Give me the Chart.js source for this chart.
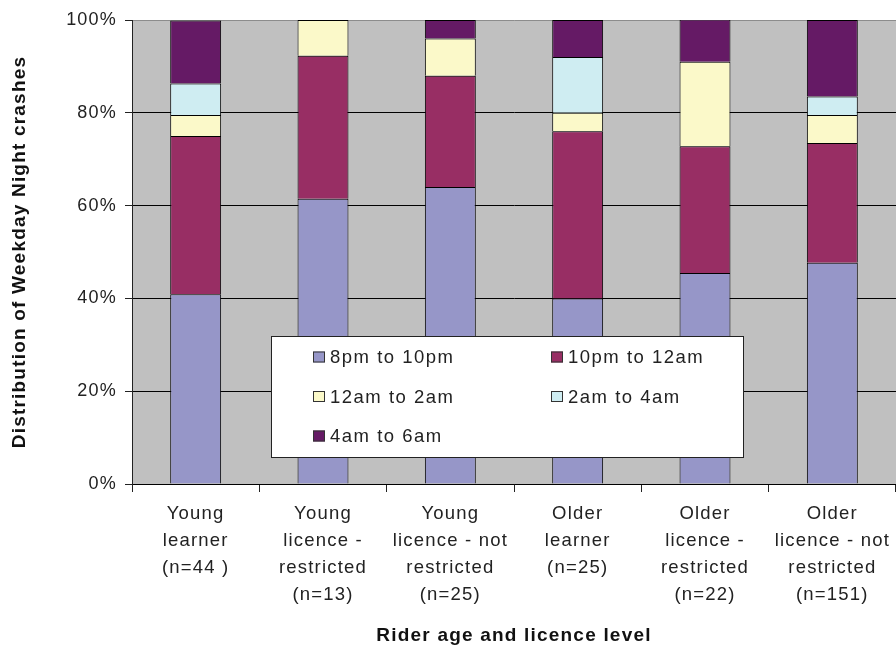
<!DOCTYPE html>
<html>
<head>
<meta charset="utf-8">
<title>Weekday night crashes by rider age and licence level</title>
<script src="https://cdn.jsdelivr.net/npm/chart.js@4.4.1/dist/chart.umd.min.js"></script>
<style>
  html, body { margin: 0; padding: 0; background: #fff; overflow: hidden; }
  canvas { display: block; }
</style>
</head>
<body>
<canvas id="crashChart" width="896" height="649"></canvas>
<script>
// Rider groups along the x axis (one array per label line)
const categories = [
  ['Young', 'learner', '(n=44 )'],
  ['Young', 'licence -', 'restricted', '(n=13)'],
  ['Young', 'licence - not', 'restricted', '(n=25)'],
  ['Older', 'learner', '(n=25)'],
  ['Older', 'licence -', 'restricted', '(n=22)'],
  ['Older', 'licence - not', 'restricted', '(n=151)']
];

// Share of weekday night crashes (%) in each time band
const pm8to10  = [40.9, 61.5, 64.0, 40.0, 45.5, 47.7];
const pm10to12 = [34.1, 30.8, 24.0, 36.0, 27.3, 25.8];
const am12to2  = [4.5, 7.7, 8.0, 4.0, 18.2, 6.0];
const am2to4   = [6.8, null, null, 12.0, null, 4.0];
const am4to6   = [13.6, null, 4.0, 8.0, 9.1, 16.5];

const seriesNames = ['8pm to 10pm', '10pm to 12am', '12am to 2am', '2am to 4am', '4am to 6am'];
const seriesColors = ['#9696c8', '#982e64', '#fbf9c9', '#cfedf2', '#651a65'];
const yTicks = [0, 20, 40, 60, 80, 100];

const FONT = '"Liberation Sans", Arial, sans-serif';
Chart.defaults.font.family = FONT;
Chart.defaults.color = '#222';

// grey plot area, plus the slightly wide letter spacing used by all chart text
const plotBackground = {
  id: 'plotBackground',
  beforeDraw(chart) {
    const { ctx, chartArea: a } = chart;
    ctx.letterSpacing = '1.2px';
    ctx.save();
    ctx.fillStyle = '#c0c0c0';
    ctx.fillRect(a.left, a.top, a.right - a.left, a.bottom - a.top);
    ctx.restore();
  }
};

// boxed two-column legend sitting over the bars
const boxLegend = {
  id: 'boxLegend',
  afterDraw(chart) {
    const ctx = chart.ctx;
    ctx.save();
    ctx.fillStyle = '#fff';
    ctx.fillRect(271, 336, 473, 122);
    ctx.strokeStyle = '#222';
    ctx.lineWidth = 1;
    ctx.strokeRect(271.5, 336.5, 472, 121);
    ctx.font = '18.5px ' + FONT;
    ctx.letterSpacing = '1.5px';
    ctx.textBaseline = 'middle';
    chart.data.datasets.forEach((ds, i) => {
      const x = i % 2 ? 551 : 313;
      const y = 357 + Math.floor(i / 2) * 39.5;
      ctx.fillStyle = ds.backgroundColor;
      ctx.fillRect(x, y - 5.5, 12, 11);
      ctx.strokeStyle = '#333';
      ctx.strokeRect(x + 0.5, y - 5, 11, 10);
      ctx.fillStyle = '#222';
      ctx.fillText(ds.label, x + 17, y + 1);
    });
    ctx.restore();
  }
};

const seriesData = [pm8to10, pm10to12, am12to2, am2to4, am4to6];

new Chart(document.getElementById('crashChart'), {
  type: 'bar',
  data: {
    labels: categories,
    datasets: seriesData.map((d, i) => ({
      label: seriesNames[i],
      data: d,
      backgroundColor: seriesColors[i],
      borderColor: '#000',
      borderWidth: 1,
      categoryPercentage: 1,
      barPercentage: 0.4
    }))
  },
  options: {
    responsive: false,
    animation: false,
    devicePixelRatio: 1,
    layout: { padding: { top: 20, right: -2, bottom: 0, left: 0 } },
    plugins: {
      legend: { display: false },
      tooltip: { enabled: false }
    },
    scales: {
      x: {
        stacked: true,
        afterFit: s => { s.height = 165; },
        grid: { drawOnChartArea: false, tickLength: 8, color: '#222' },
        border: { color: '#000' },
        ticks: {
          font: { size: 18.5, lineHeight: 1.443 },
          padding: 9,
          maxRotation: 0,
          autoSkip: false
        },
        title: {
          display: true,
          text: 'Rider age and licence level',
          font: { size: 19, weight: 'bold', lineHeight: 1 },
          padding: { top: 0, bottom: 4 },
          color: '#111'
        }
      },
      y: {
        stacked: true,
        min: 0,
        max: 100,
        afterFit: s => { s.width = 132; },
        afterBuildTicks: s => { s.ticks = yTicks.map(v => ({ value: v })); },
        grid: {
          color: c => (c.tick && c.tick.value === 100 ? '#8c8c8c' : '#000'),
          tickColor: '#222',
          tickLength: 7
        },
        border: { color: '#222' },
        ticks: {
          font: { size: 18 },
          padding: 8,
          callback: v => v + '%'
        },
        title: {
          display: true,
          text: 'Distribution of Weekday Night crashes',
          font: { size: 19, weight: 'bold', lineHeight: 1 },
          padding: { top: 10, bottom: 0 },
          color: '#111'
        }
      }
    }
  },
  plugins: [plotBackground, boxLegend]
});
</script>
</body>
</html>
